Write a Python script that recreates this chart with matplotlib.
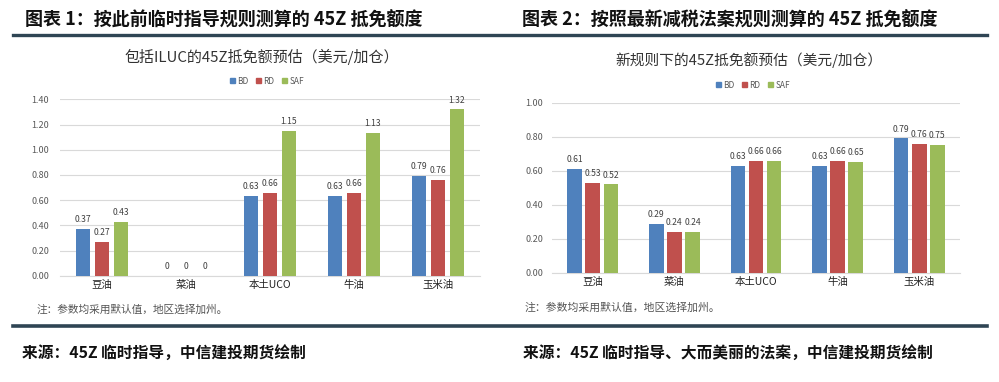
import matplotlib
matplotlib.use("Agg")
import matplotlib.pyplot as plt
import numpy as np
from matplotlib.lines import Line2D
from matplotlib.patches import Patch

plt.rcParams["font.family"] = ["Noto Sans CJK SC", "DejaVu Sans"]

categories = ["豆油", "菜油", "本土UCO", "牛油", "玉米油"]
series = ["BD", "RD", "SAF"]

# chart 1: interim guidance (incl. ILUC)
left_bd = [0.37, 0, 0.63, 0.63, 0.79]
left_rd = [0.27, 0, 0.66, 0.66, 0.76]
left_saf = [0.43, 0, 1.15, 1.13, 1.32]

# chart 2: new tax bill rules
right_bd = [0.61, 0.29, 0.63, 0.63, 0.79]
right_rd = [0.53, 0.24, 0.66, 0.66, 0.76]
right_saf = [0.52, 0.24, 0.66, 0.65, 0.75]

COLORS = ["#4f81bd", "#c0504d", "#9bbb59"]
GRID = "#d9d9d9"
TXT = "#404040"
W, H = 999, 382

fig = plt.figure(figsize=(W / 100, H / 100), dpi=100)
fig.patch.set_facecolor("white")


def fx(px):
    return px / W


def fy(py):
    return 1 - py / H


def draw_panel(rect, data, ymax, bar_w, step, ypad):
    ax = fig.add_axes(rect)
    x = np.arange(len(categories))
    for i, vals in enumerate(data):
        off = (i - 1) * step
        bars = ax.bar(x + off, vals, width=bar_w, color=COLORS[i], zorder=3)
        for b, v in zip(bars, vals):
            lab = "0" if v == 0 else f"{v:.2f}"
            ax.annotate(lab, (b.get_x() + b.get_width() / 2, v),
                        xytext=(0, 3.5), textcoords="offset points",
                        ha="center", va="bottom", fontsize=6.2, color=TXT)
    ticks = np.arange(0, ymax + 0.001, 0.2)
    ax.set_xlim(-0.5, len(categories) - 0.5)
    ax.set_ylim(0, ymax)
    ax.set_yticks(ticks)
    ax.set_yticklabels([f"{t:.2f}" for t in ticks])
    ax.set_xticks(x)
    ax.set_xticklabels(categories)
    ax.tick_params(axis="y", length=0, labelsize=6.5, labelcolor="#595959", pad=ypad)
    ax.tick_params(axis="x", length=0, labelsize=7.5, labelcolor="#222222", pad=3)
    ax.grid(axis="y", color=GRID, lw=0.8, zorder=0)
    for s in ["left", "right", "top"]:
        ax.spines[s].set_visible(False)
    ax.spines["bottom"].set_color(GRID)
    ax.spines["bottom"].set_linewidth(0.8)
    ax.set_axisbelow(True)
    return ax


draw_panel([fx(60), fy(275.7), fx(420), (275.7 - 99.3) / H],
           [left_bd, left_rd, left_saf], 1.40, 0.167, 0.222, 8)
draw_panel([fx(552), fy(273), fx(408), (273 - 102.7) / H],
           [right_bd, right_rd, right_saf], 1.00, 0.18, 0.222, 6.5)

# headers and rules
fig.text(fx(25), fy(20), "图表 1：按此前临时指导规则测算的 45Z 抵免额度",
         fontsize=13, fontweight="bold", va="center", color="#111111")
fig.text(fx(522), fy(20), "图表 2：按照最新减税法案规则测算的 45Z 抵免额度",
         fontsize=13, fontweight="bold", va="center", color="#111111")
fig.add_artist(Line2D([fx(13), fx(987)], [fy(35), fy(35)], color="#2f4554", lw=2.4))
fig.add_artist(Line2D([fx(13), fx(987)], [fy(326), fy(326)], color="#2f4554", lw=2.6))

# chart titles
fig.text(fx(262), fy(57), "包括ILUC的45Z抵免额预估（美元/加仓）",
         fontsize=10.8, ha="center", va="center", color="#333333")
fig.text(fx(749), fy(60), "新规则下的45Z抵免额预估（美元/加仓）",
         fontsize=10.6, ha="center", va="center", color="#333333")

# legends
handles = [Patch(color=c, label=s) for c, s in zip(COLORS, series)]
for cx, cy in [(267, 81), (753, 85)]:
    fig.legend(handles=handles, loc="center", bbox_to_anchor=(fx(cx), fy(cy)),
               ncol=3, frameon=False, fontsize=6, handlelength=0.6,
               handleheight=0.6, handletextpad=0.3, columnspacing=0.9,
               labelcolor="#595959")

# notes
fig.text(fx(37), fy(310), "注：参数均采用默认值，地区选择加州。",
         fontsize=7.7, va="center", color="#555555")
fig.text(fx(525), fy(308), "注：参数均采用默认值，地区选择加州。",
         fontsize=7.8, va="center", color="#555555")

# sources
fig.text(fx(22), fy(354), "来源：45Z 临时指导，中信建投期货绘制",
         fontsize=11.3, fontweight="bold", style="italic", va="center", color="#111111")
fig.text(fx(523), fy(354), "来源：45Z 临时指导、大而美丽的法案，中信建投期货绘制",
         fontsize=11.3, fontweight="bold", style="italic", va="center", color="#111111")

fig.savefig("out.png", dpi=100)
